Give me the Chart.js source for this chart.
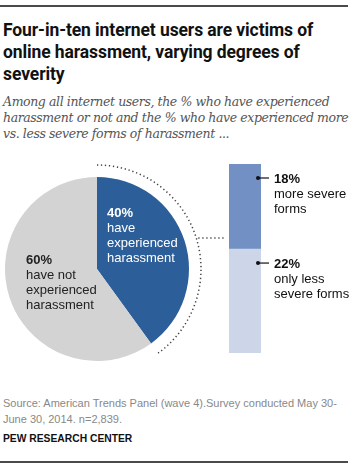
<!DOCTYPE html>
<html>
<head>
<meta charset="utf-8">
<script src="https://cdn.jsdelivr.net/npm/chart.js@4/dist/chart.umd.min.js"></script>
<style>
  body { margin: 0; background: #fff; width: 350px; height: 473px; position: relative; overflow: hidden; }
  .rule { position: absolute; left: 0; width: 348px; background: #4a4a4a; }
  #title { position: absolute; left: 3px; top: 19px; width: 348px; font: 700 17.5px/22px Roboto, sans-serif; color: #111; letter-spacing: -0.1px; }
  #subtitle { position: absolute; left: 3px; top: 94px; white-space: nowrap; font: italic 12.5px/16px "DejaVu Serif", serif; color: #555; letter-spacing: -0.4px; }
  #source { position: absolute; left: 3px; top: 395px; width: 345px; font: 11px/16px "Liberation Sans", sans-serif; color: #888; }
  #brand { position: absolute; left: 3px; top: 432px; font: 700 10.3px/14px "Liberation Sans", sans-serif; color: #111; }
  canvas { position: absolute; }
</style>
</head>
<body>
<div class="rule" style="top:5px;height:2px"></div>
<div id="title">Four-in-ten internet users are victims of online harassment, varying degrees of severity</div>
<div id="subtitle">Among all internet users, the % who have experienced<br>harassment or not and the % who have experienced more<br>vs. less severe forms of harassment ...</div>
<canvas id="pie" width="350" height="230" style="left:0;top:150px"></canvas>
<canvas id="bar" width="170" height="210" style="left:180px;top:155px"></canvas>
<div id="source">Source: American Trends Panel (wave 4).Survey conducted May 30-June 30, 2014. n=2,839.</div>
<div id="brand">PEW RESEARCH CENTER</div>
<div class="rule" style="top:461px;height:2px"></div>

<script>
// overall split
const pieLabels = [['have', 'experienced', 'harassment'], ['have not', 'experienced', 'harassment']];
const pieValues = [40, 60];
const pieColors = ['#2c5f99', '#d3d3d3'];

// breakdown of the 40% (bottom of stack first)
const barLabels = [['only less', 'severe forms'], ['more severe', 'forms']];
const barValues = [22, 18];
const barColors = ['#cdd5e8', '#7290c3'];

const bodyFont = '13px "Liberation Sans", sans-serif';
const boldFont = 'bold 13px "Liberation Sans", sans-serif';

const pieDecor = {
    id: 'pieDecor',
    afterDatasetsDraw(chart) {
        const ctx = chart.ctx;
        const arcs = chart.getDatasetMeta(0).data;
        const a = arcs[0];
        const r = a.outerRadius + 12;

        // dotted arc around the "experienced" slice
        ctx.save();
        ctx.strokeStyle = '#444';
        ctx.lineWidth = 1.5;
        ctx.setLineDash([1.3, 2.7]);
        ctx.beginPath();
        ctx.arc(a.x, a.y, r, a.startAngle, a.endAngle);
        ctx.stroke();
        // connector to the bar
        const dy = -31;
        ctx.beginPath();
        ctx.moveTo(a.x + Math.sqrt(r * r - dy * dy) + 2, a.y + dy);
        ctx.lineTo(226, a.y + dy);
        ctx.stroke();
        ctx.restore();

        // slice labels
        const spots = [[10, -52, '#fff'], [-71, -5, '#222']];
        ctx.save();
        ctx.textAlign = 'left';
        ctx.textBaseline = 'alphabetic';
        pieValues.forEach((v, i) => {
            const [ox, oy, col] = spots[i];
            ctx.fillStyle = col;
            ctx.font = boldFont;
            ctx.fillText(v + '%', a.x + ox, a.y + oy);
            ctx.font = bodyFont;
            pieLabels[i].forEach((line, j) => {
                ctx.fillText(line, a.x + ox, a.y + oy + 15 * (j + 1));
            });
        });
        ctx.restore();
    }
};

const barDecor = {
    id: 'barDecor',
    afterDatasetsDraw(chart) {
        const ctx = chart.ctx;
        ctx.save();
        barValues.forEach((v, i) => {
            const el = chart.getDatasetMeta(i).data[0];
            const right = el.x + el.width / 2;
            const top = Math.min(el.y, el.base);
            const y = top + 14;
            ctx.fillStyle = '#111';
            ctx.strokeStyle = '#111';
            ctx.beginPath();
            ctx.arc(right - 3, y, 2, 0, Math.PI * 2);
            ctx.fill();
            ctx.lineWidth = 1.2;
            ctx.beginPath();
            ctx.moveTo(right - 3, y);
            ctx.lineTo(right + 8, y);
            ctx.stroke();
            ctx.textAlign = 'left';
            ctx.font = boldFont;
            ctx.fillText(v + '%', right + 13, y + 5);
            ctx.font = bodyFont;
            barLabels[i].forEach((line, j) => {
                ctx.fillText(line, right + 13, y + 5 + 15 * (j + 1));
            });
        });
        ctx.restore();
    }
};

new Chart(document.getElementById('pie'), {
    type: 'pie',
    data: {
        labels: pieLabels.map(l => l.join(' ')),
        datasets: [{ data: pieValues, backgroundColor: pieColors, borderWidth: 0 }]
    },
    options: {
        responsive: false,
        animation: false,
        layout: { padding: { left: 5, top: 27, right: 161, bottom: 19 } },
        plugins: { legend: { display: false }, tooltip: { enabled: false } }
    },
    plugins: [pieDecor]
});

new Chart(document.getElementById('bar'), {
    type: 'bar',
    data: {
        labels: ['experienced'],
        datasets: barValues.map((v, i) => ({
            label: barLabels[i].join(' '),
            data: [v],
            backgroundColor: barColors[i],
            borderWidth: 0,
            barPercentage: 1,
            categoryPercentage: 1
        }))
    },
    options: {
        responsive: false,
        animation: false,
        layout: { padding: { left: 49, right: 89, top: 9, bottom: 12 } },
        scales: {
            x: { display: false, stacked: true },
            y: { display: false, stacked: true, min: 0, max: 40 }
        },
        plugins: { legend: { display: false }, tooltip: { enabled: false } }
    },
    plugins: [barDecor]
});
</script>
</body>
</html>
